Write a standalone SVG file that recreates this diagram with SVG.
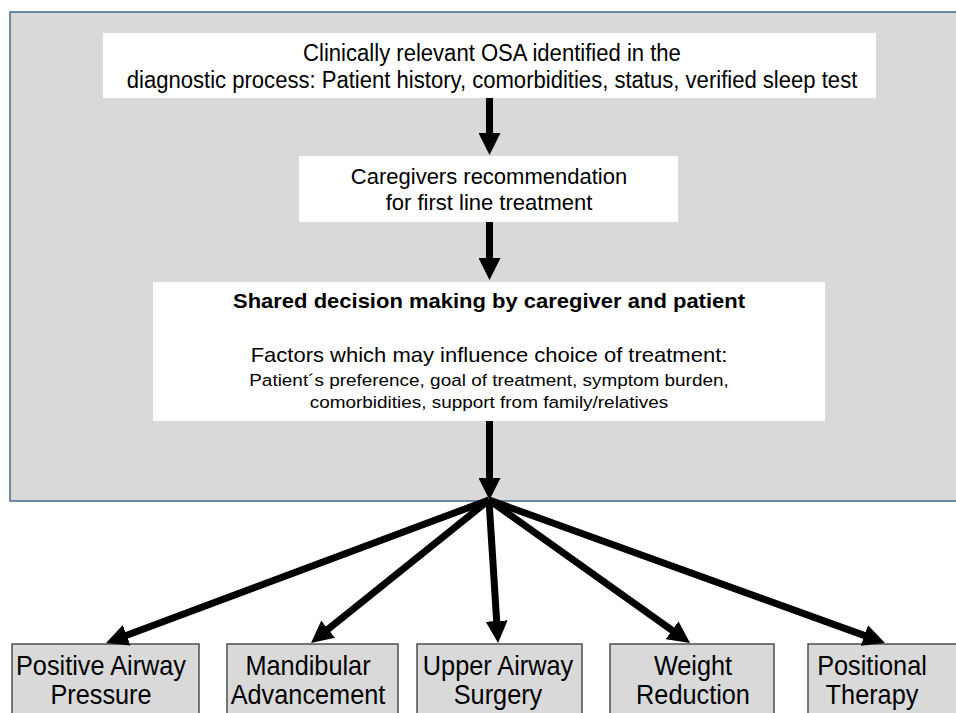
<svg xmlns="http://www.w3.org/2000/svg" width="956" height="713" viewBox="0 0 956 713">
<style>
  text { font-family: "Liberation Sans", Arial, sans-serif; fill: #000; text-anchor: middle; }
  .t23 { font-size: 23px; }
  .t22 { font-size: 22px; }
  .t20 { font-size: 20px; }
  .t17 { font-size: 17.2px; }
  .b20 { font-size: 20px; font-weight: bold; }
  .t27 { font-size: 27.5px; }
  .wbox { fill: #ffffff; stroke: none; }
  .gbox { fill: #d9d9d9; stroke: #4d4d4d; stroke-width: 1.5; }
  .conn { stroke: #000; stroke-width: 7; fill: none; marker-end: url(#ah); }
</style>
<defs>
  <marker id="ah" markerUnits="userSpaceOnUse" markerWidth="22" markerHeight="22" viewBox="0 0 22 22" refX="7" refY="11" orient="auto">
    <path d="M0,0 L22,11 L0,22 Z" fill="#000"/>
  </marker>
</defs>
<rect width="956" height="713" fill="#ffffff"/>
<g id="panel">
  <rect x="10" y="12" width="960" height="489" fill="#d9d9d9" stroke="#44688c" stroke-width="1.5"/>
</g>
<g id="node-osa">
  <rect class="wbox" x="103" y="33" width="773" height="65"/>
  <g transform="translate(492 0) scale(0.96 1)">
    <text class="t23" x="0" y="61">Clinically relevant OSA identified in the</text>
    <text class="t23" x="0" y="88">diagnostic process: Patient history, comorbidities, status, verified sleep test</text>
  </g>
</g>
<g id="node-recommendation">
  <rect class="wbox" x="299" y="156" width="379" height="66"/>
  <text class="t22" x="489" y="184">Caregivers recommendation</text>
  <text class="t22" x="489" y="210">for first line treatment</text>
</g>
<g id="node-shared">
  <rect class="wbox" x="153" y="282" width="672" height="139"/>
  <g transform="translate(489 0) scale(1.1 1)">
    <text class="b20" x="0" y="308">Shared decision making by caregiver and patient</text>
    <text class="t20" x="0" y="362">Factors which may influence choice of treatment:</text>
    <text class="t17" x="0" y="386">Patient´s preference, goal of treatment, symptom burden,</text>
    <text class="t17" x="0" y="408">comorbidities, support from family/relatives</text>
  </g>
</g>
<g id="node-pap">
  <rect class="gbox" x="12" y="644" width="187" height="80"/>
  <g transform="translate(101 0) scale(0.92 1)">
    <text class="t27" x="0" y="675">Positive Airway</text>
    <text class="t27" x="0" y="704">Pressure</text>
  </g>
</g>
<g id="node-mandibular">
  <rect class="gbox" x="227" y="644" width="171" height="80"/>
  <g transform="translate(308 0) scale(0.92 1)">
    <text class="t27" x="0" y="675">Mandibular</text>
    <text class="t27" x="0" y="704">Advancement</text>
  </g>
</g>
<g id="node-surgery">
  <rect class="gbox" x="417" y="644" width="165" height="80"/>
  <g transform="translate(498 0) scale(0.92 1)">
    <text class="t27" x="0" y="675">Upper Airway</text>
    <text class="t27" x="0" y="704">Surgery</text>
  </g>
</g>
<g id="node-weight">
  <rect class="gbox" x="610" y="644" width="164" height="80"/>
  <g transform="translate(693 0) scale(0.92 1)">
    <text class="t27" x="0" y="675">Weight</text>
    <text class="t27" x="0" y="704">Reduction</text>
  </g>
</g>
<g id="node-positional">
  <rect class="gbox" x="808" y="644" width="170" height="80"/>
  <g transform="translate(872 0) scale(0.92 1)">
    <text class="t27" x="0" y="675">Positional</text>
    <text class="t27" x="0" y="704">Therapy</text>
  </g>
</g>
<g id="connectors">
  <line class="conn" x1="489.5" y1="98" x2="489.5" y2="140"/>
  <line class="conn" x1="489.5" y1="222" x2="489.5" y2="265"/>
  <line class="conn" x1="489.5" y1="421" x2="489.5" y2="485"/>
  <line class="conn" x1="489" y1="500" x2="120.1" y2="637.8"/>
  <line class="conn" x1="489" y1="500" x2="322.7" y2="633.6"/>
  <line class="conn" x1="489" y1="500" x2="497.1" y2="628"/>
  <line class="conn" x1="489" y1="500" x2="677.8" y2="634.3"/>
  <line class="conn" x1="489" y1="500" x2="870.9" y2="637.9"/>
</g>
</svg>
